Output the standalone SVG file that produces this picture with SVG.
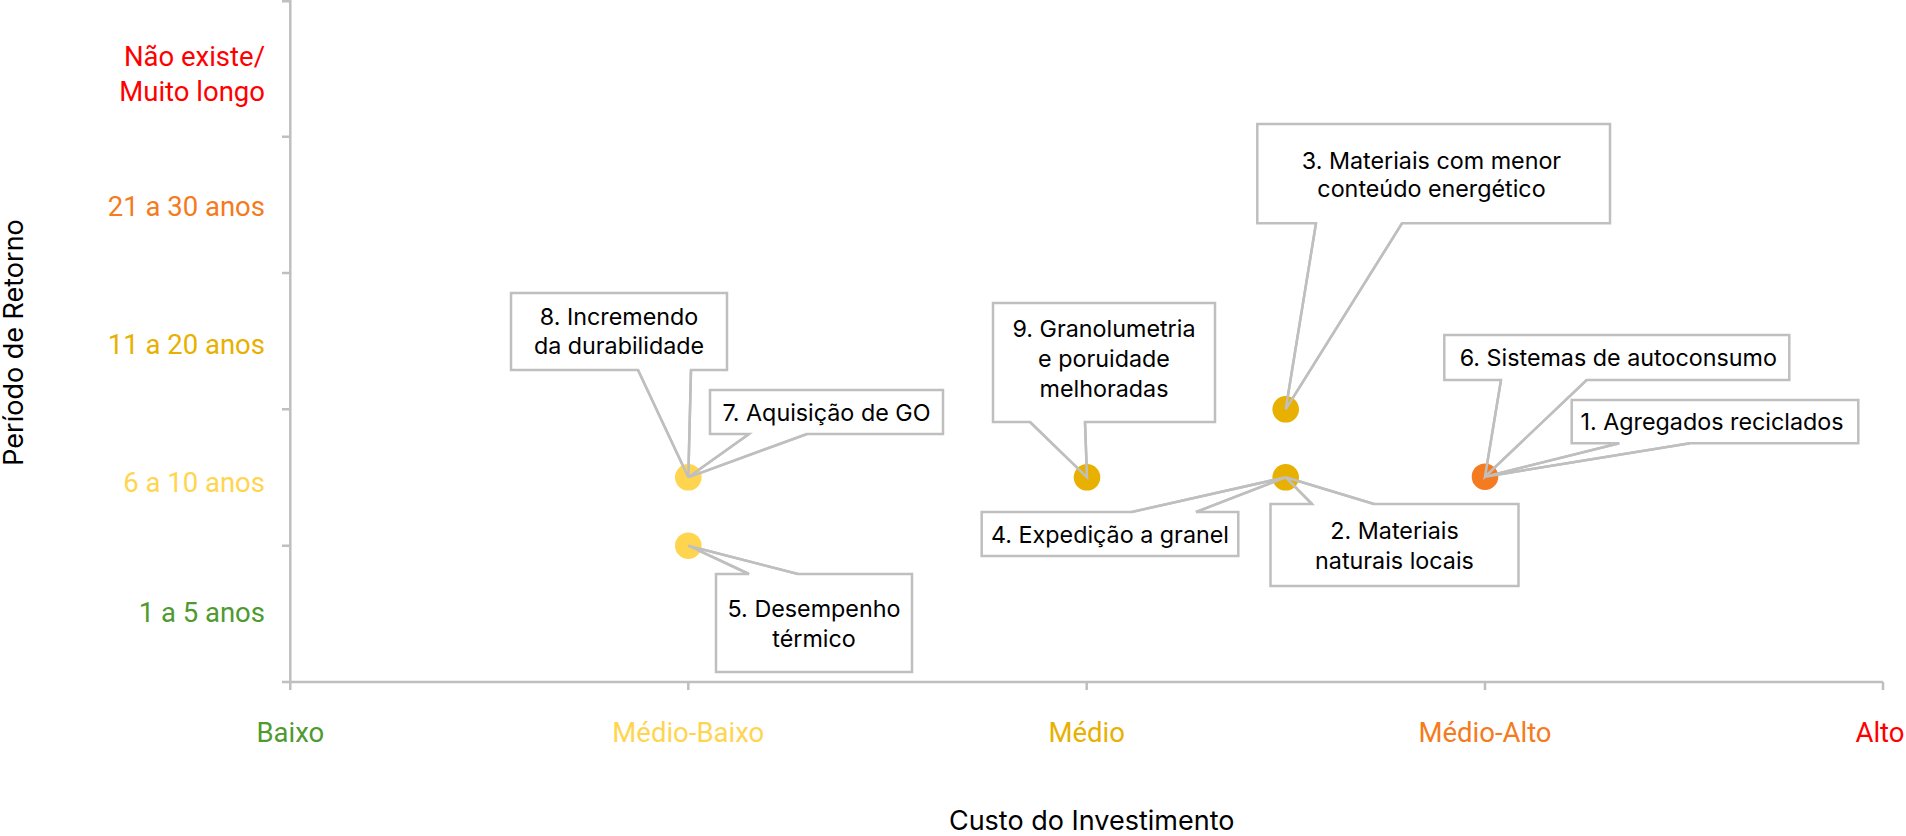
<svg xmlns="http://www.w3.org/2000/svg" width="1906" height="836" viewBox="0 0 1906 836">
<style>
.axis{stroke:#BFBFBF;stroke-width:2.5;fill:none}
.bubble{fill:#FFFFFF;stroke:#BFBFBF;stroke-width:2.5;stroke-linejoin:miter}
.lead{fill:none;stroke:#BFBFBF;stroke-width:2.5;stroke-linejoin:miter}
.bt{font-family:Inter,"Liberation Sans",sans-serif;font-size:23.3px;fill:#000000;text-anchor:middle}
.tick{font-family:Roboto,"Liberation Sans",sans-serif;font-size:27.5px}
.ty{text-anchor:end}
.tx{text-anchor:middle}
.title{font-family:Inter,"Liberation Sans",sans-serif;font-size:27px;fill:#000000;text-anchor:middle}
.red{fill:#FF0000}
.orange{fill:#F47B20}
.gold{fill:#E8B000}
.lyellow{fill:#FFD54F}
.green{fill:#4E9A30}
</style>
<rect width="1906" height="836" fill="#FFFFFF"/>
<g id="axes">
<path class="axis" d="M290.3,0 V690 M282,682 H1883 M282,1.2 H290.3 M282,136.7 H290.3 M282,273 H290.3 M282,409.3 H290.3 M282,545.7 H290.3 M688.3,682 V690 M1086.7,682 V690 M1485,682 V690 M1883,682 V690"/>
<text class="tick ty red" x="265" y="66">Não existe/</text>
<text class="tick ty red" x="265" y="100.5">Muito longo</text>
<text class="tick ty orange" x="265" y="216">21 a 30 anos</text>
<text class="tick ty gold" x="265" y="354">11 a 20 anos</text>
<text class="tick ty lyellow" x="265" y="491.5">6 a 10 anos</text>
<text class="tick ty green" x="265" y="621.5">1 a 5 anos</text>
<text class="tick tx green" x="290.3" y="742">Baixo</text>
<text class="tick tx lyellow" x="688.3" y="742">Médio-Baixo</text>
<text class="tick tx gold" x="1086.7" y="742">Médio</text>
<text class="tick tx orange" x="1485" y="742">Médio-Alto</text>
<text class="tick tx red" x="1880" y="742">Alto</text>
<text class="title" x="1091.7" y="830">Custo do Investimento</text>
<text class="title" transform="translate(23,342.5) rotate(-90)">Período de Retorno</text>
</g>
<g id="node8">
<path class="bubble" d="M511,293 H727 V370 H691 L688.3,477.3 L638,370 H511 Z"/>
<text class="bt" x="619" y="325">8. Incremendo</text>
<text class="bt" x="619" y="354">da durabilidade</text>
</g>
<g id="node7">
<path class="bubble" d="M710,390 H943 V434 H807 L688.3,477.3 L749,434 H710 Z"/>
<text class="bt" x="826.5" y="420.5">7. Aquisição de GO</text>
</g>
<g id="node5">
<path class="bubble" d="M716,574 H749 L688.3,545.7 L798,574 H912 V672 H716 Z"/>
<text class="bt" x="814" y="617.3">5. Desempenho</text>
<text class="bt" x="814" y="646.7">térmico</text>
</g>
<g id="node9">
<path class="bubble" d="M993,303 H1215 V422 H1085 L1087,477.3 L1030,422 H993 Z"/>
<text class="bt" x="1104" y="337.3">9. Granolumetria</text>
<text class="bt" x="1104" y="367.3">e poruidade</text>
<text class="bt" x="1104" y="397.3">melhoradas</text>
</g>
<g id="node4">
<path class="bubble" d="M981.7,512 H1131.7 L1285.7,477.3 L1196,512 H1238.3 V556 H981.7 Z"/>
<text class="bt" x="1110" y="543.3">4. Expedição a granel</text>
</g>
<g id="node2">
<path class="bubble" d="M1270.5,504 H1312 L1285.7,477.3 L1374,504 H1518.5 V586 H1270.5 Z"/>
<text class="bt" x="1394.5" y="539">2. Materiais</text>
<text class="bt" x="1394.5" y="569.4">naturais locais</text>
</g>
<g id="node3">
<path class="bubble" d="M1257.3,124 H1610 V223.3 H1402 L1285.7,409.3 L1316,223.3 H1257.3 Z"/>
<text class="bt" x="1431.5" y="169.3">3. Materiais com menor</text>
<text class="bt" x="1431.5" y="197.3">conteúdo energético</text>
</g>
<g id="node6">
<path class="bubble" d="M1444.3,335 H1789.3 V380 H1586.7 L1485,476.7 L1501,380 H1444.3 Z"/>
<text class="bt" x="1618.3" y="366">6. Sistemas de autoconsumo</text>
</g>
<g id="node1">
<path class="bubble" d="M1571.7,400 H1858.3 V443.3 H1690 L1485,476.7 L1619.3,443.3 H1571.7 Z"/>
<text class="bt" x="1712" y="430">1. Agregados reciclados</text>
</g>
<g id="points">
<circle cx="688.3" cy="477.3" r="13.3" fill="#FFD54F"/>
<circle cx="688.3" cy="545.7" r="13.3" fill="#FFD54F"/>
<circle cx="1087" cy="477.3" r="13.3" fill="#E8B000"/>
<circle cx="1285.7" cy="409.3" r="13.3" fill="#E8B000"/>
<circle cx="1285.7" cy="477.3" r="13.3" fill="#E8B000"/>
<circle cx="1485" cy="476.7" r="13.3" fill="#F47B20"/>
</g>
<g id="connectors">
<polyline class="lead" points="638,370 688.3,477.3 691,370"/>
<polyline class="lead" points="749,434 688.3,477.3 807,434"/>
<polyline class="lead" points="749,574 688.3,545.7 798,574"/>
<polyline class="lead" points="1030,422 1087,477.3 1085,422"/>
<polyline class="lead" points="1131.7,512 1285.7,477.3 1196,512"/>
<polyline class="lead" points="1312,504 1285.7,477.3 1374,504"/>
<polyline class="lead" points="1316,223.3 1285.7,409.3 1402,223.3"/>
<polyline class="lead" points="1501,380 1485,476.7 1586.7,380"/>
<polyline class="lead" points="1619.3,443.3 1485,476.7 1690,443.3"/>
</g>
</svg>
